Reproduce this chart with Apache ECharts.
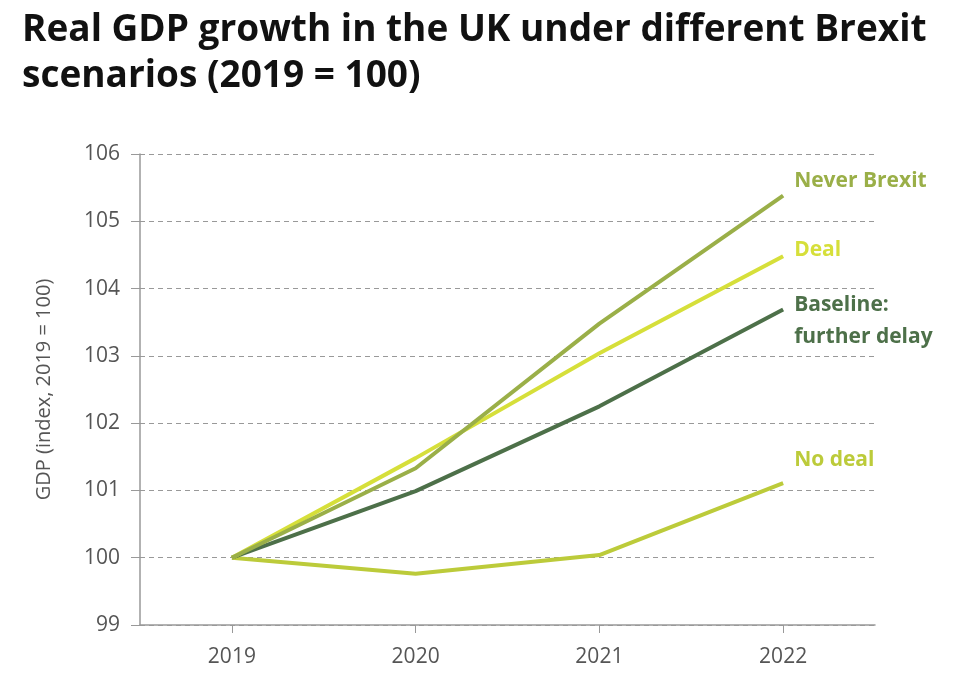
<!DOCTYPE html>
<html>
<head>
<meta charset="utf-8">
<script src="https://cdn.jsdelivr.net/npm/echarts@6/dist/echarts.min.js"></script>
<style>
html,body{margin:0;padding:0;background:#fff;}
#chart{width:960px;height:698px;}
</style>
</head>
<body>
<div id="chart"></div>
<script>
const years = ['2019', '2020', '2021', '2022'];
const neverBrexit = [100, 101.33, 103.48, 105.38];
const deal = [100, 101.48, 103.04, 104.48];
const baseline = [100, 100.99, 102.25, 103.69];
const noDeal = [100, 99.76, 100.04, 101.11];
const yTicks = [99, 100, 101, 102, 103, 104, 105, 106];

const chart = echarts.init(document.getElementById('chart'));

function mkSeries(name, data, color, labelText, offY) {
  return {
    name: name,
    type: 'line',
    data: data,
    symbol: 'none',
    lineStyle: { color: color, width: 4 },
    itemStyle: { color: color },
    endLabel: {
      show: true, formatter: labelText, distance: 0,
      color: color, fontFamily: 'Open Sans', fontWeight: 'bold', fontSize: 21,
      lineHeight: 32, offset: [11, offY], align: 'left', verticalAlign: 'middle'
    },
    animation: false
  };
}

chart.setOption({
  backgroundColor: '#fff',
  title: {
    text: 'Real GDP growth in the UK under different Brexit\nscenarios (2019 = 100)',
    left: 17, top: 2,
    textStyle: { fontFamily: 'Open Sans', fontWeight: 'bold', fontSize: 37, lineHeight: 46, color: '#111' }
  },
  grid: { left: 140, right: 85, top: 154, bottom: 73 },
  xAxis: {
    type: 'category', data: years, boundaryGap: true,
    axisLine: { lineStyle: { color: '#999', width: 1.5 } },
    axisTick: { show: true, alignWithLabel: true, length: 8, lineStyle: { color: '#999' } },
    axisLabel: { color: '#555', fontFamily: 'Open Sans', fontSize: 21, margin: 22 }
  },
  yAxis: {
    type: 'value', min: yTicks[0], max: yTicks[yTicks.length - 1], interval: 1,
    name: 'GDP (index, 2019 = 100)', nameLocation: 'middle', nameGap: 86,
    nameTextStyle: { color: '#555', fontFamily: 'Open Sans', fontSize: 20 },
    axisLine: { show: true, lineStyle: { color: '#999', width: 1.5 } },
    axisTick: { show: true, length: 9, lineStyle: { color: '#999' } },
    axisLabel: { color: '#555', fontFamily: 'Open Sans', fontSize: 21, margin: 20 },
    splitLine: { show: true, lineStyle: { color: '#999', type: [5, 4], width: 1 } }
  },
  series: [
    mkSeries('No deal', noDeal, '#bccb3a', 'No deal', -23),
    mkSeries('Baseline', baseline, '#4d7049', 'Baseline:\nfurther delay', 12),
    mkSeries('Deal', deal, '#d6df3a', 'Deal', -6),
    mkSeries('Never Brexit', neverBrexit, '#9aaf48', 'Never Brexit', -15)
  ]
});
</script>
</body>
</html>
